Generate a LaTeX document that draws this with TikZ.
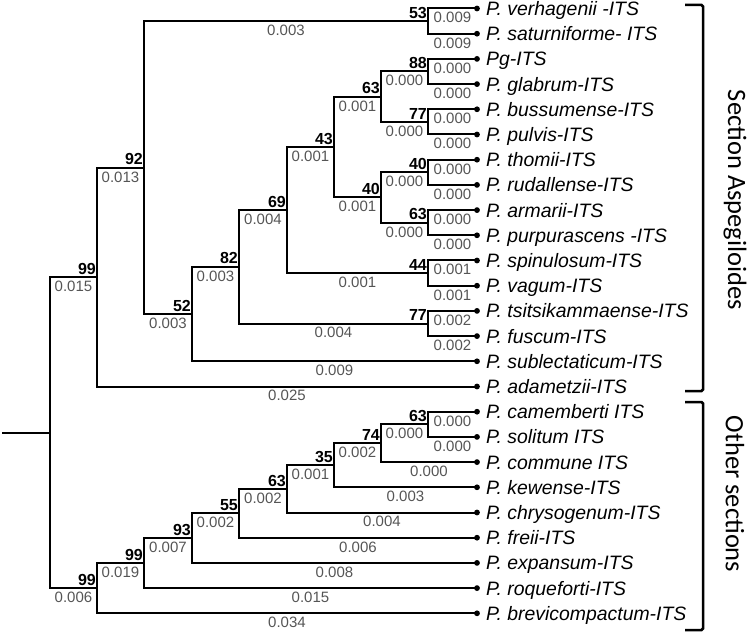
\documentclass[tikz,border=0pt]{standalone}
\usepackage{fontspec}
\setmainfont{Liberation Sans}
\newfontfamily\secfont{Carlito}
\definecolor{blgray}{HTML}{555555}
\begin{document}
\begin{tikzpicture}[x=1pt,y=-1pt,
  br/.style={line width=2pt, line join=miter},
  elab/.style={pos=0.75, anchor=north, inner sep=0pt, yshift=-3pt, text=blgray, font=\fontsize{15}{17}\selectfont},
  boot/.style={anchor=south east, inner sep=0pt, xshift=-1pt, yshift=2.5pt, font=\bfseries\fontsize{16}{18}\selectfont},
  sp/.style={anchor=base west, inner sep=0pt, yshift=-7pt, font=\itshape\fontsize{19.4}{22}\selectfont},
  sec/.style={rotate=-90, font=\secfont\fontsize{26.5}{30}\selectfont, inner sep=0pt},
  brk/.style={line width=2.5pt, rounded corners=1.5pt}]
\useasboundingbox (0,0) rectangle (749,636);
% leaves
\foreach \i/\y in {1/8.5,2/33.7,3/58.9,4/84.1,5/109.3,6/134.5,7/159.7,8/184.9,9/210.1,10/235.3,11/260.5,12/285.7,13/310.9,14/336.1,15/361.3,16/386.5,17/411.7,18/436.9,19/462.1,20/487.3,21/512.5,22/537.7,23/562.9,24/588.1,25/613.3}
  \coordinate (L\i) at (477,\y);
% internal nodes
\coordinate (S) at (2,432.6);
\coordinate (R) at (50,432.6);
\coordinate (T99) at (97,277.05);
\coordinate (N92) at (144,167.6);
\coordinate (N53) at (428,21.1);
\coordinate (N52) at (192,314.05);
\coordinate (N82) at (239,266.8);
\coordinate (N69) at (287,210.1);
\coordinate (N43) at (334,147.1);
\coordinate (N63) at (381,96.7);
\coordinate (N88) at (428,71.5);
\coordinate (N77) at (428,121.9);
\coordinate (N40) at (381,197.5);
\coordinate (N40a) at (428,172.3);
\coordinate (N63a) at (428,222.7);
\coordinate (N44) at (428,273.1);
\coordinate (N77b) at (428,323.5);
\coordinate (B99) at (97,588.2);
\coordinate (B99i) at (144,563.1);
\coordinate (N93) at (192,538.1);
\coordinate (N55) at (239,513.3);
\coordinate (N63c) at (287,488.9);
\coordinate (N35) at (334,465.25);
\coordinate (N74) at (381,443.2);
\coordinate (N63b) at (428,424.3);
% branches
\draw[br] (S) -- (R);
\draw[br] (R) |- node[elab]{0.015} (T99);
\draw[br] (R) |- node[elab]{0.006} (B99);
\draw[br] (T99) |- node[elab]{0.013} (N92);
\draw[br] (T99) |- node[elab]{0.025} (L16);
\draw[br] (N92) |- node[elab]{0.003} (N53);
\draw[br] (N92) |- node[elab]{0.003} (N52);
\draw[br] (N53) |- node[elab]{0.009} (L1);
\draw[br] (N53) |- node[elab]{0.009} (L2);
\draw[br] (N52) |- node[elab]{0.003} (N82);
\draw[br] (N52) |- node[elab]{0.009} (L15);
\draw[br] (N82) |- node[elab]{0.004} (N69);
\draw[br] (N82) |- node[elab]{0.004} (N77b);
\draw[br] (N69) |- node[elab]{0.001} (N43);
\draw[br] (N69) |- node[elab]{0.001} (N44);
\draw[br] (N43) |- node[elab]{0.001} (N63);
\draw[br] (N43) |- node[elab]{0.001} (N40);
\draw[br] (N63) |- node[elab]{0.000} (N88);
\draw[br] (N63) |- node[elab]{0.000} (N77);
\draw[br] (N40) |- node[elab]{0.000} (N40a);
\draw[br] (N40) |- node[elab]{0.000} (N63a);
\draw[br] (N88) |- node[elab]{0.000} (L3);
\draw[br] (N88) |- node[elab]{0.000} (L4);
\draw[br] (N77) |- node[elab]{0.000} (L5);
\draw[br] (N77) |- node[elab]{0.000} (L6);
\draw[br] (N40a) |- node[elab]{0.000} (L7);
\draw[br] (N40a) |- node[elab]{0.000} (L8);
\draw[br] (N63a) |- node[elab]{0.000} (L9);
\draw[br] (N63a) |- node[elab]{0.000} (L10);
\draw[br] (N44) |- node[elab]{0.001} (L11);
\draw[br] (N44) |- node[elab]{0.001} (L12);
\draw[br] (N77b) |- node[elab]{0.002} (L13);
\draw[br] (N77b) |- node[elab]{0.002} (L14);
\draw[br] (B99) |- node[elab]{0.019} (B99i);
\draw[br] (B99) |- node[elab]{0.034} (L25);
\draw[br] (B99i) |- node[elab]{0.007} (N93);
\draw[br] (B99i) |- node[elab]{0.015} (L24);
\draw[br] (N93) |- node[elab]{0.002} (N55);
\draw[br] (N93) |- node[elab]{0.008} (L23);
\draw[br] (N55) |- node[elab]{0.002} (N63c);
\draw[br] (N55) |- node[elab]{0.006} (L22);
\draw[br] (N63c) |- node[elab]{0.001} (N35);
\draw[br] (N63c) |- node[elab]{0.004} (L21);
\draw[br] (N35) |- node[elab]{0.002} (N74);
\draw[br] (N35) |- node[elab]{0.003} (L20);
\draw[br] (N74) |- node[elab]{0.000} (N63b);
\draw[br] (N74) |- node[elab]{0.000} (L19);
\draw[br] (N63b) |- node[elab]{0.000} (L17);
\draw[br] (N63b) |- node[elab]{0.000} (L18);
% bootstrap values
\foreach \n/\v in {T99/99,N92/92,N53/53,N52/52,N82/82,N69/69,N43/43,N63/63,N88/88,N77/77,N40/40,N40a/40,N63a/63,N44/44,N77b/77,B99/99,B99i/99,N93/93,N55/55,N63c/63,N35/35,N74/74,N63b/63}
  \node[boot] (b\n) at (\n) {\v};
% leaf dots
\foreach \i in {1,...,25} \fill (L\i) circle (2.9);
% species labels
\foreach \i/\t in {1/{P. verhagenii -ITS},2/{P. saturniforme- ITS},3/{Pg-ITS},4/{P. glabrum-ITS},5/{P. bussumense-ITS},6/{P. pulvis-ITS},7/{P. thomii-ITS},8/{P. rudallense-ITS},9/{P. armarii-ITS},10/{P. purpurascens -ITS},11/{P. spinulosum-ITS},12/{P. vagum-ITS},13/{P. tsitsikammaense-ITS},14/{P. fuscum-ITS},15/{P. sublectaticum-ITS},16/{P. adametzii-ITS},17/{P. camemberti ITS},18/{P. solitum ITS},19/{P. commune ITS},20/{P. kewense-ITS},21/{P. chrysogenum-ITS},22/{P. freii-ITS},23/{P. expansum-ITS},24/{P. roqueforti-ITS},25/{P. brevicompactum-ITS}}
  \node[sp] (t\i) at ([xshift=9pt]L\i) {\t};
% brackets
\coordinate (ka1) at (685,5);
\coordinate (ka2) at (703,5);
\coordinate (ka3) at (703,391);
\coordinate (ka4) at (685,391);
\coordinate (kb1) at (685,402);
\coordinate (kb2) at (703,402);
\coordinate (kb3) at (703,630);
\coordinate (kb4) at (685,630);
\draw[brk] (ka1) -- (ka2) -- (ka3) -- (ka4);
\draw[brk] (kb1) -- (kb2) -- (kb3) -- (kb4);
\node[sec] (secA) at (735,200) {Section Aspegiloides};
\node[sec] (secB) at (735,494) {Other sections};
\end{tikzpicture}
\end{document}
